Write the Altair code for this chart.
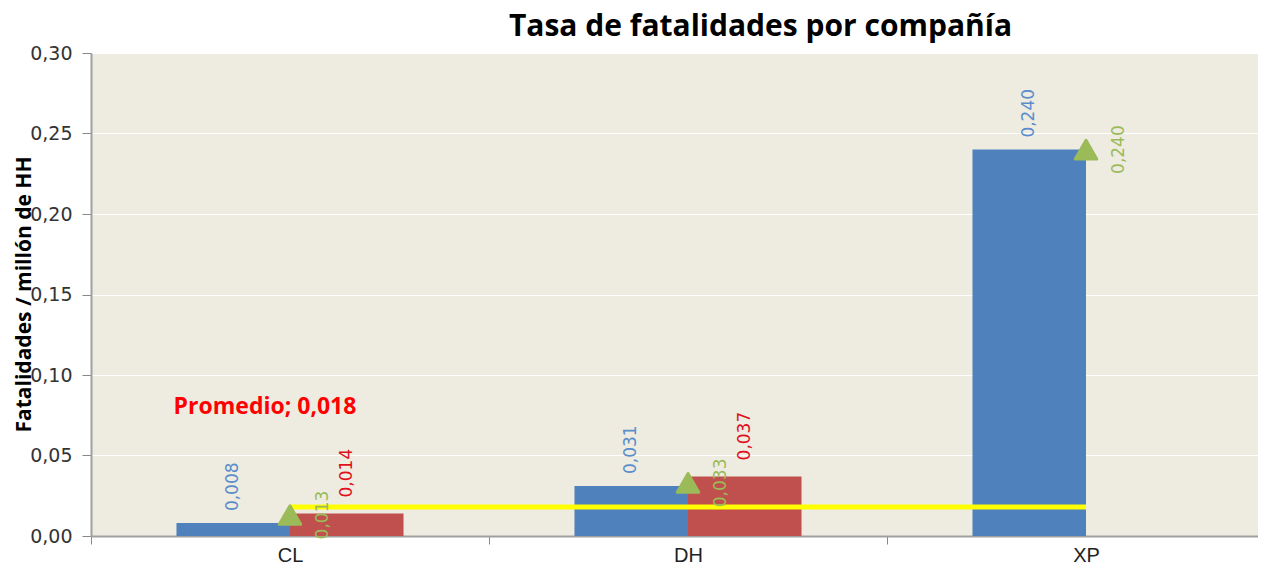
import altair as alt
import pandas as pd

categories = ["CL", "DH", "XP"]
series_a = [0.008, 0.031, 0.240]   # blue bars
series_b = [0.014, 0.037, None]    # red bars
marker_vals = [0.013, 0.033, 0.240]  # green triangles
promedio = 0.018

TITLE = "Tasa de fatalidades por compañía"
Y_TITLE = "Fatalidades / millón de HH"

BLUE = "#4F81BD"
RED = "#C0504D"
GREEN = "#9BBB59"

rows = []
for c, a, b in zip(categories, series_a, series_b):
    if a is not None:
        rows.append({"cat": c, "serie": "A", "value": a})
    if b is not None:
        rows.append({"cat": c, "serie": "B", "value": b})
bars_df = pd.DataFrame(rows)
marker_df = pd.DataFrame({"cat": categories, "value": marker_vals})
avg_df = pd.DataFrame({"cat": categories, "value": [promedio] * len(categories)})
avg_label_df = pd.DataFrame({"cat": [categories[0]], "value": [promedio],
                             "label": ["Promedio; 0,018"]})

fmt = "replace(format(datum.value, '.3f'), '.', ',')"

x_scale = alt.Scale(domain=categories, range=[0, 1194], paddingInner=0, paddingOuter=0, round=False)
y_scale = alt.Scale(domain=[0, 0.30])
off_scale = alt.Scale(domain=["A", "B"], paddingInner=0, paddingOuter=0.753)

x_enc = alt.X("cat:N", scale=x_scale, sort=categories,
              axis=alt.Axis(title=None, labelAngle=0, tickBand="extent", tickSize=8,
                            tickColor="#888888", domainColor="#A0A0A0", domainWidth=2,
                            labelFont="Liberation Sans", labelFontSize=20,
                            labelColor="#222222", labelPadding=1, labelBaseline="top"))
y_enc = alt.Y("value:Q", scale=y_scale,
              axis=alt.Axis(title=Y_TITLE, values=[0, 0.05, 0.10, 0.15, 0.20, 0.25, 0.30],
                            labelExpr="replace(format(datum.value, '.2f'), '.', ',')",
                            labelFont="DejaVu Sans", labelFontSize=19, labelColor="#333333",
                            labelPadding=10, tickSize=9, tickColor="#888888",
                            domainColor="#A0A0A0", domainWidth=2,
                            gridColor="#FFFFFF", gridWidth=1.2,
                            titleFont="Open Sans", titleFontSize=21, titleFontWeight="bold",
                            titleColor="#000000", titleAngle=270, titleX=-67, titleY=241,
                            titleAlign="center", titleBaseline="middle"))

bars = alt.Chart(bars_df).mark_bar().encode(
    x=x_enc,
    xOffset=alt.XOffset("serie:N", scale=off_scale),
    y=y_enc,
    color=alt.Color("serie:N", scale=alt.Scale(domain=["A", "B"], range=[BLUE, RED]), legend=None),
)

line = alt.Chart(avg_df).mark_line(color="#FFFF00", strokeWidth=5).encode(
    x=alt.X("cat:N", sort=categories), y=alt.Y("value:Q"))

tri = alt.Chart(marker_df).mark_point(shape="triangle-up", filled=True, size=460, color=GREEN,
                                      opacity=1, stroke=GREEN, strokeWidth=3,
                                      strokeJoin="round").encode(
    x=alt.X("cat:N", sort=categories), y=alt.Y("value:Q"))

label_font = "DejaVu Sans"
lab_a = alt.Chart(bars_df[bars_df.serie == "A"]).transform_calculate(t=fmt).mark_text(
    angle=270, align="left", baseline="middle", dx=12, font=label_font, fontSize=17,
    color="#5B8DCB").encode(
    x=alt.X("cat:N", sort=categories), xOffset=alt.XOffset("serie:N"), y=alt.Y("value:Q"),
    text="t:N")

lab_b = alt.Chart(bars_df[bars_df.serie == "B"]).transform_calculate(t=fmt).mark_text(
    angle=270, align="left", baseline="middle", dx=16, font=label_font, fontSize=17,
    color="#E0101A").encode(
    x=alt.X("cat:N", sort=categories), xOffset=alt.XOffset("serie:N"), y=alt.Y("value:Q"),
    text="t:N")

lab_m = alt.Chart(marker_df).transform_calculate(t=fmt).mark_text(
    angle=270, align="center", baseline="middle", dy=33, font=label_font, fontSize=17,
    color=GREEN).encode(
    x=alt.X("cat:N", sort=categories), y=alt.Y("value:Q"), text="t:N")

avg_lab = alt.Chart(avg_label_df).mark_text(
    align="center", baseline="middle", dx=-25, dy=-100, font="Open Sans", fontSize=23,
    fontWeight="bold", color="#FF0000").encode(
    x=alt.X("cat:N", sort=categories), y=alt.Y("value:Q"), text="label:N")

chart = alt.layer(bars, line, tri, lab_a, lab_b, lab_m, avg_lab).properties(
    width=1167, height=483,
    title=alt.TitleParams(TITLE, font="Open Sans", fontSize=30, fontWeight="bold",
                          color="#000000", anchor="middle", dx=86, offset=2),
    autosize=alt.AutoSizeParams(type="none"),
    padding={"left": 83, "top": 45, "right": 0, "bottom": 32},
).configure_view(fill="#EEECE1", stroke=None)

chart.save("out.html", embed_options={"renderer": "svg", "actions": False})
